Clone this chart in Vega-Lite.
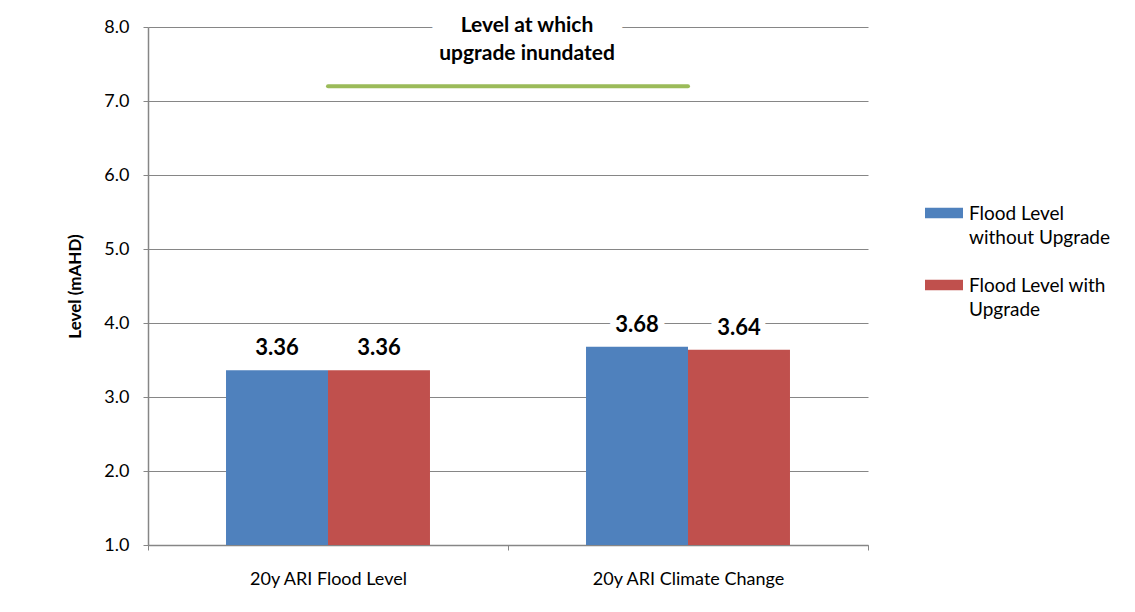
{
  "$schema": "https://vega.github.io/schema/vega-lite/v6.json",
  "width": 720,
  "height": 518,
  "autosize": {"type": "none"},
  "padding": {"left": 148, "top": 27, "right": 267, "bottom": 67},
  "background": "white",
  "config": {
    "font": "Lato",
    "view": {"stroke": null},
    "axis": {
      "labelFont": "Lato",
      "titleFont": "Lato",
      "labelColor": "#000000",
      "titleColor": "#000000",
      "domainColor": "#868686",
      "tickColor": "#868686",
      "gridColor": "#868686"
    },
    "legend": {"labelFont": "Lato", "labelColor": "#000000"}
  },
  "datasets": {
    "levels": [
      {"scenario": "20y ARI Flood Level", "series": "Flood Level without Upgrade", "level": 3.36},
      {"scenario": "20y ARI Flood Level", "series": "Flood Level with Upgrade", "level": 3.36},
      {"scenario": "20y ARI Climate Change", "series": "Flood Level without Upgrade", "level": 3.68},
      {"scenario": "20y ARI Climate Change", "series": "Flood Level with Upgrade", "level": 3.64}
    ],
    "inundation": [
      {"scenario": "20y ARI Flood Level", "level": 7.2},
      {"scenario": "20y ARI Climate Change", "level": 7.2}
    ],
    "notes": [
      {"scenario": "20y ARI Climate Change", "level": 8.01, "note": "Level at which"},
      {"scenario": "20y ARI Climate Change", "level": 7.63, "note": "upgrade inundated"}
    ]
  },
  "data": {"name": "levels"},
  "encoding": {
    "x": {
      "field": "scenario",
      "type": "nominal",
      "sort": ["20y ARI Flood Level", "20y ARI Climate Change"],
      "scale": {"domain": ["20y ARI Flood Level", "20y ARI Climate Change"], "paddingInner": 0, "paddingOuter": 0},
      "axis": {
        "title": null,
        "labelAngle": 0,
        "labelFontSize": 18,
        "labelLimit": 300,
        "labelPadding": 20,
        "tickBand": "extent",
        "tickSize": 5,
        "domainWidth": 1.5,
        "grid": false
      }
    },
    "y": {
      "field": "level",
      "type": "quantitative",
      "scale": {"domain": [1, 8], "nice": false, "zero": false},
      "axis": {
        "title": "Level (mAHD)",
        "titleFontSize": 17,
        "titleFontWeight": "bold",
        "titlePadding": 19,
        "values": [1, 2, 3, 4, 5, 6, 7, 8],
        "format": ".1f",
        "labelFontSize": 18,
        "labelPadding": 14,
        "tickSize": 5,
        "domainWidth": 1.5,
        "grid": true,
        "gridWidth": 1
      }
    }
  },
  "layer": [
    {
      "mark": {"type": "bar", "clip": true},
      "encoding": {
        "xOffset": {
          "field": "series",
          "type": "nominal",
          "sort": ["Flood Level without Upgrade", "Flood Level with Upgrade"],
          "scale": {"paddingInner": 0, "paddingOuter": 0.765}
        },
        "color": {
          "field": "series",
          "type": "nominal",
          "sort": ["Flood Level without Upgrade", "Flood Level with Upgrade"],
          "scale": {
            "domain": ["Flood Level without Upgrade", "Flood Level with Upgrade"],
            "range": ["#4F81BD", "#C0504D"]
          },
          "legend": {
            "title": null,
            "orient": "none",
            "legendX": 777,
            "legendY": 167,
            "padding": 0,
            "symbolType": "M-1,-0.27H1V0.27H-1Z",
            "symbolSize": 1444,
            "symbolStrokeWidth": 0,
            "labelFontSize": 19,
            "labelOffset": 6,
            "labelLimit": 300,
            "labelBaseline": "alphabetic",
            "rowPadding": 18,
            "labelExpr": "datum.label == 'Flood Level without Upgrade' ? ['Flood Level', 'without Upgrade'] : ['Flood Level with', 'Upgrade']",
            "encode": {
              "labels": {"update": {"lineHeight": {"value": 24}, "dy": {"value": 7}}}
            }
          }
        }
      }
    },
    {
      "mark": {
        "type": "text",
        "baseline": "alphabetic",
        "dy": -15,
        "fontSize": 22,
        "fontWeight": "bold",
        "color": "white",
        "stroke": "white",
        "strokeWidth": 14,
        "strokeJoin": "round"
      },
      "encoding": {
        "xOffset": {
          "field": "series",
          "type": "nominal",
          "sort": ["Flood Level without Upgrade", "Flood Level with Upgrade"]
        },
        "text": {"field": "level", "type": "quantitative", "format": ".2f"}
      }
    },
    {
      "mark": {
        "type": "text",
        "baseline": "alphabetic",
        "dy": -15,
        "fontSize": 22,
        "fontWeight": "bold",
        "color": "#000000"
      },
      "encoding": {
        "xOffset": {
          "field": "series",
          "type": "nominal",
          "sort": ["Flood Level without Upgrade", "Flood Level with Upgrade"]
        },
        "text": {"field": "level", "type": "quantitative", "format": ".2f"}
      }
    },
    {
      "data": {"name": "inundation"},
      "mark": {"type": "line", "color": "#9BBB59", "strokeWidth": 4, "strokeCap": "round"},
      "encoding": {}
    },
    {
      "data": {"name": "notes"},
      "transform": [{"filter": "datum.note == 'Level at which'"}],
      "mark": {
        "type": "text",
        "baseline": "middle",
        "align": "center",
        "dx": 19,
        "fontSize": 21,
        "fontWeight": "bold",
        "color": "white",
        "stroke": "white",
        "strokeWidth": 60,
        "strokeJoin": "round"
      },
      "encoding": {
        "x": {"field": "scenario", "type": "nominal", "bandPosition": 0},
        "text": {"field": "note", "type": "nominal"}
      }
    },
    {
      "data": {"name": "notes"},
      "mark": {"type": "text", "baseline": "middle", "align": "center", "dx": 19, "fontSize": 21, "fontWeight": "bold", "color": "#000000"},
      "encoding": {
        "x": {"field": "scenario", "type": "nominal", "bandPosition": 0},
        "text": {"field": "note", "type": "nominal"}
      }
    }
  ]
}
